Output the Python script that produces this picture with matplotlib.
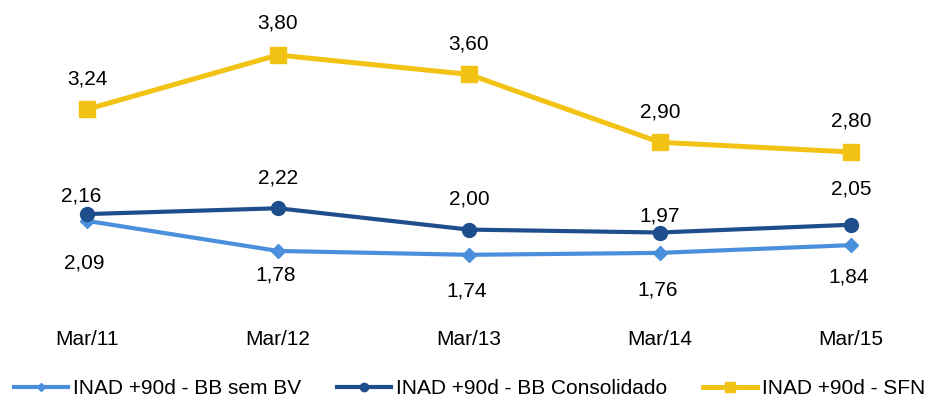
import matplotlib.pyplot as plt

plt.rcParams['font.family'] = ['Liberation Sans', 'DejaVu Sans']

periods = ['Mar/11', 'Mar/12', 'Mar/13', 'Mar/14', 'Mar/15']
bb_sem_bv = [2.09, 1.78, 1.74, 1.76, 1.84]
bb_consolidado = [2.16, 2.22, 2.00, 1.97, 2.05]
sfn = [3.24, 3.80, 3.60, 2.90, 2.80]

series_names = ['INAD +90d - BB sem BV', 'INAD +90d - BB Consolidado', 'INAD +90d - SFN']


def fmt(v):
    return f'{v:.2f}'.replace('.', ',')


fig = plt.figure(figsize=(9.39, 4.07), dpi=100)
ax = fig.add_axes([0, 1 - 320 / 407, 1, 300 / 407])

x = range(len(periods))
l1, = ax.plot(x, bb_sem_bv, color='#4A8FDB', lw=3, marker='D', ms=7, label=series_names[0])
l2, = ax.plot(x, bb_consolidado, color='#1F4E8C', lw=3, marker='o', ms=10, label=series_names[1])
l3, = ax.plot(x, sfn, color='#F2C314', lw=3.6, marker='s', ms=12, label=series_names[2])

fs = 15
# label offsets (points)
off1 = [-30, -17, -26, -27, -23]
off2 = [13, 22, 22, 12, 26]
off3 = [22, 23, 22, 22, 22]
for i in x:
    ax.annotate(fmt(bb_sem_bv[i]), (i, bb_sem_bv[i]), xytext=(-2, off1[i]), textcoords='offset points',
                ha='center', va='center', fontsize=fs)
    ax.annotate(fmt(bb_consolidado[i]), (i, bb_consolidado[i]), xytext=(-4 if i == 0 else 0, off2[i]),
                textcoords='offset points', ha='center', va='center', fontsize=fs)
    ax.annotate(fmt(sfn[i]), (i, sfn[i]), xytext=(0, off3[i]), textcoords='offset points',
                ha='center', va='center', fontsize=fs)

ax.set_xlim(-87 / 191, (939 - 87) / 191)
ax.set_ylim(3.8 - 265 / 97, 3.8 + 35 / 97)
ax.set_xticks(list(x))
ax.set_xticklabels(periods, fontsize=fs)
ax.tick_params(axis='x', length=0, pad=7)
ax.set_yticks([])
for s in ax.spines.values():
    s.set_visible(False)

fig.legend(handles=[l1, l2, l3], loc='lower center', ncol=3, frameon=False, fontsize=fs,
           bbox_to_anchor=(0.5, -0.025), handlelength=2.6, handletextpad=0.25, columnspacing=1.7,
           markerscale=0.6)

fig.savefig('out.png', dpi=100)
